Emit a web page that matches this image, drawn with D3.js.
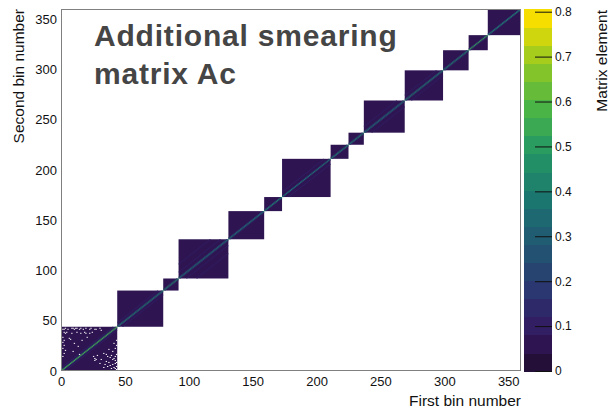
<!DOCTYPE html>
<html>
<head>
<meta charset="utf-8">
<script src="https://cdn.jsdelivr.net/npm/d3@7"></script>
<style>
  html, body { margin: 0; padding: 0; background: #fff; }
  svg { display: block; font-family: "Liberation Sans", Arial, sans-serif; }
</style>
</head>
<body>
<svg id="chart" width="609" height="409"></svg>
<script>
// ---------------- data ----------------
const nBins = 360;
const xTicks = [0, 50, 100, 150, 200, 250, 300, 350];
const yTicks = [0, 50, 100, 150, 200, 250, 300, 350];
const colorTicks = [0, 0.1, 0.2, 0.3, 0.4, 0.5, 0.6, 0.7, 0.8];
const zMax = 0.806;
const nContours = 20;

// block-diagonal structure: edges of the blocks (bin numbers)
const blockEdges = [0, 44, 80, 92, 131, 159, 173, 211, 225, 237, 269, 299, 319, 334, 360];
// typical off-diagonal level inside every block
const blockBackground = [0.045, 0.05, 0.05, 0.05, 0.05, 0.05, 0.05, 0.05, 0.05, 0.05, 0.05, 0.05, 0.05, 0.05];
// diagonal element level in every block
const diagValue = [0.58, 0.42, 0.45, 0.40, 0.40, 0.44, 0.40, 0.42, 0.42, 0.40, 0.42, 0.42, 0.55, 0.42];
// level of the first neighbours of the diagonal
const nearDiagValue = [0.24, 0.18, 0.18, 0.17, 0.17, 0.18, 0.16, 0.17, 0.17, 0.17, 0.17, 0.17, 0.2, 0.17];
// faint side bands parallel to the diagonal
const bandBlock  = [0, 0, 1, 1, 3, 3, 3, 3, 6, 6, 9, 9, 10, 10];
const bandOffset = [3, -3, 4, -4, 6, -6, 14, -14, 5, -5, 6, -6, 5, -5];
const bandValue  = [0.10, 0.10, 0.11, 0.11, 0.10, 0.10, 0.09, 0.09, 0.09, 0.09, 0.09, 0.09, 0.09, 0.09];
// empty (zero) cells in the first block: [first bin, second bin]
const zeroCells = [
  [1,41],[2,41],[3,42],[5,41],[8,42],[9,42],[10,41],[11,42],[12,42],[14,41],[15,42],[17,41],
  [19,42],[22,41],[23,42],[26,41],[27,41],[30,42],[31,40],
  [2,38],[3,37],[4,38],[8,37],[12,38],[15,37],[18,38],[19,37],[22,37],[24,38],
  [1,33],[2,30],[1,28],[2,25],[1,22],[3,20],[2,17],[1,14],
  [6,32],[7,31],[10,27],[13,24],[16,30],[20,33],[9,19],[14,16],
  [25,14],[26,12],[27,11],[26,10],[28,15],
  [33,17],[35,16],[36,14],[38,13],[39,15],[40,11],[41,12],[42,10],[43,8],[42,7],[40,6],[38,5],
  [36,4],[34,6],[37,8],[41,3],[42,2],[43,1],[43,4],[39,2],[35,9],[31,11],[30,7],[33,3],
  [42,14],[43,16],[40,19],[37,21],[42,22],[43,25],[41,27],[43,30]
];

// ---------------- ROOT kViridis palette ----------------
const palR = [26, 51, 43, 33, 28, 35, 74, 144, 246];
const palG = [9, 24, 55, 87, 118, 150, 180, 200, 222];
const palB = [30, 96, 112, 114, 112, 101, 72, 35, 0];
function viridis(t) {
  t = Math.max(0, Math.min(1, t));
  const s = t * (palR.length - 1);
  const i = Math.min(palR.length - 2, Math.floor(s));
  const f = s - i;
  const c = (a) => Math.round(a[i] + (a[i + 1] - a[i]) * f);
  return `rgb(${c(palR)},${c(palG)},${c(palB)})`;
}
function bandColor(k) {
  const idx = Math.floor((k + 0.99) * 255 / nContours);
  return viridis(idx / 254);
}
function colorOf(v) {
  let k = Math.floor(v / zMax * nContours);
  k = Math.max(0, Math.min(nContours - 1, k));
  return bandColor(k);
}

// ---------------- layout ----------------
const svg = d3.select("#chart");
const L = 61, R = 521, T = 9, B = 371;
const x = d3.scaleLinear().domain([0, nBins]).range([L, R]);
const y = d3.scaleLinear().domain([0, nBins]).range([B, T]);

const cells = svg.append("g");

// block backgrounds
const blocks = d3.range(blockEdges.length - 1).map(b => ({
  b, lo: blockEdges[b], hi: blockEdges[b + 1], v: blockBackground[b]
}));
cells.selectAll("rect.block").data(blocks).join("rect")
  .attr("class", "block")
  .attr("x", d => x(d.lo)).attr("width", d => x(d.hi) - x(d.lo))
  .attr("y", d => y(d.hi)).attr("height", d => y(d.lo) - y(d.hi))
  .attr("fill", d => colorOf(d.v));

// side bands
const bandCells = [];
bandBlock.forEach((b, j) => {
  const lo = blockEdges[b], hi = blockEdges[b + 1];
  for (let i = lo; i < hi; i++) {
    const k = i + bandOffset[j];
    if (k >= lo && k < hi) bandCells.push({ i, k, v: bandValue[j] });
  }
});
// near-diagonal and diagonal
const nearCells = [], diagCells = [];
blocks.forEach(d => {
  for (let i = d.lo; i < d.hi; i++) {
    if (i + 1 < d.hi) nearCells.push({ i, k: i + 1, v: nearDiagValue[d.b] });
    if (i - 1 >= d.lo) nearCells.push({ i, k: i - 1, v: nearDiagValue[d.b] });
    diagCells.push({ i, k: i, v: diagValue[d.b] });
  }
});
const allCells = bandCells.concat(nearCells, diagCells);
cells.selectAll("rect.cell").data(allCells).join("rect")
  .attr("class", "cell")
  .attr("x", d => x(d.i)).attr("width", d => x(d.i + 1) - x(d.i))
  .attr("y", d => y(d.k + 1)).attr("height", d => y(d.k) - y(d.k + 1))
  .attr("fill", d => colorOf(d.v));

// zero cells (not drawn -> white)
cells.selectAll("rect.zero").data(zeroCells).join("rect")
  .attr("class", "zero")
  .attr("x", d => x(d[0])).attr("width", d => x(d[0] + 1) - x(d[0]))
  .attr("y", d => y(d[1] + 1)).attr("height", d => y(d[1]) - y(d[1] + 1))
  .attr("fill", "#fff");

// frame
svg.append("rect")
  .attr("x", L + 0.5).attr("y", T + 0.5)
  .attr("width", R - L - 1).attr("height", B - T - 1)
  .attr("fill", "none").attr("stroke", "#808080").attr("stroke-width", 1);

// axes
const xAxis = svg.append("g").attr("transform", `translate(0,${B})`)
  .call(d3.axisBottom(x).tickValues(xTicks).tickSize(0).tickPadding(6));
const yAxis = svg.append("g").attr("transform", `translate(${L},0)`)
  .call(d3.axisLeft(y).tickValues(yTicks).tickSize(0).tickPadding(4));
[xAxis, yAxis].forEach(g => {
  g.select(".domain").remove();
  g.selectAll("text").attr("font-size", 13).attr("fill", "#111")
    .attr("font-family", "Liberation Sans, Arial, sans-serif");
});

// colour bar
const z = d3.scaleLinear().domain([0, zMax]).range([B, T]);
const cbL = 524, cbR = 552;
const bands = d3.range(nContours);
svg.append("g").attr("shape-rendering", "crispEdges")
  .selectAll("rect").data(bands).join("rect")
  .attr("x", cbL).attr("width", cbR - cbL)
  .attr("y", k => z((k + 1) * zMax / nContours))
  .attr("height", k => z(k * zMax / nContours) - z((k + 1) * zMax / nContours) + 0.6)
  .attr("fill", k => bandColor(k));
const zAxis = svg.append("g").attr("transform", `translate(${cbR},0)`)
  .call(d3.axisRight(z).tickValues(colorTicks).tickSize(-17).tickPadding(3)
    .tickFormat(d3.format("~g")));
zAxis.select(".domain").remove();
zAxis.selectAll("line").attr("stroke", "#111");
zAxis.selectAll("text").attr("font-size", 12).attr("fill", "#111")
  .attr("font-family", "Liberation Sans, Arial, sans-serif");

// axis titles
svg.append("text").attr("x", R).attr("y", 406)
  .attr("text-anchor", "end").attr("font-size", 15.5).attr("fill", "#111")
  .text("First bin number");
svg.append("text").attr("transform", `translate(24,${T}) rotate(-90)`)
  .attr("text-anchor", "end").attr("font-size", 15.5).attr("fill", "#111")
  .text("Second bin number");
svg.append("text").attr("transform", `translate(607,${T + 1}) rotate(-90)`)
  .attr("text-anchor", "end").attr("font-size", 15.5).attr("fill", "#111")
  .text("Matrix element");

// title inside the frame
const title = svg.append("text").attr("font-size", 30).attr("font-weight", "bold")
  .attr("fill", "#454545").attr("letter-spacing", 0.8);
title.append("tspan").attr("x", 94).attr("y", 46).text("Additional smearing");
title.append("tspan").attr("x", 94).attr("y", 84).text("matrix Ac");
</script>
</body>
</html>
